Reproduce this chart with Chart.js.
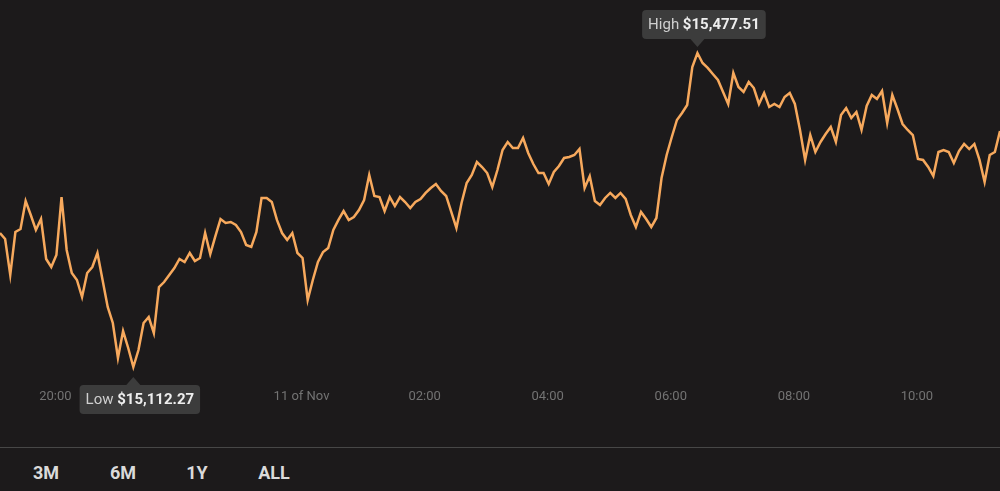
<!DOCTYPE html>
<html>
<head>
<meta charset="utf-8">
<script src="https://cdn.jsdelivr.net/npm/chart.js@4.4.0/dist/chart.umd.min.js"></script>
<style>
html, body { margin: 0; padding: 0; background: #1c1a1b; }
body { width: 1000px; height: 491px; position: relative; overflow: hidden; font-family: Roboto, sans-serif; }
#wrap { position: absolute; left: 0; top: 0; width: 1000px; height: 420px; }
#sep { position: absolute; left: 0; top: 447px; width: 1000px; height: 1px; background: #474747; }
.range { position: absolute; top: 461px; width: 60px; text-align: center; color: #dadada; font-weight: bold; font-size: 18px; line-height: 24px; }
</style>
</head>
<body>
<div id="wrap"><canvas id="priceChart"></canvas></div>
<div id="sep"></div>
<div class="range" style="left:16px">3M</div>
<div class="range" style="left:93px">6M</div>
<div class="range" style="left:167px">1Y</div>
<div class="range" style="left:244px">ALL</div>
<script>
// Preço a cada 5 minutos (10 a 11 de novembro)
const prices = [
    15268.1, 15261.2, 15219.3, 15269.3, 15272.8, 15305.4, 15289.1, 15271.6, 15284.4, 15237.9,
    15228.6, 15242.5, 15310.0, 15248.4, 15221.6, 15213.5, 15193.7, 15221.6, 15228.6, 15244.9,
    15213.5, 15182.1, 15163.5, 15122.7, 15154.1, 15134.4, 15112.27, 15132.0, 15163.5, 15170.4,
    15151.8, 15205.3, 15211.1, 15219.3,
    15227.4, 15237.9, 15234.4, 15244.9, 15235.6, 15239.1, 15268.1, 15243.7, 15264.6, 15284.4,
    15279.8, 15280.9, 15277.4, 15269.3, 15254.2, 15251.9, 15269.3, 15308.9, 15308.9, 15304.2,
    15283.3, 15268.1, 15260.0, 15268.1, 15244.9, 15239.1, 15190.2, 15213.5, 15234.4, 15246.0,
    15250.7, 15271.6,
    15283.3, 15293.7, 15283.3, 15286.8, 15294.9, 15306.5, 15335.6, 15311.2, 15310.0, 15293.7,
    15310.0, 15299.5, 15310.0, 15304.2, 15297.2, 15304.2, 15307.7, 15314.7, 15320.5, 15325.1,
    15317.0, 15311.2, 15292.6, 15274.0, 15303.0, 15326.3, 15335.6, 15350.7, 15344.9, 15337.9,
    15321.6, 15341.4,
    15364.7, 15374.0, 15367.0, 15367.0, 15378.6, 15361.2, 15348.4, 15337.9, 15337.9, 15325.1,
    15339.1, 15346.1, 15355.4, 15356.5, 15358.9, 15365.8, 15320.5, 15334.4, 15305.4, 15300.7,
    15308.9, 15314.7, 15308.9, 15314.7, 15307.7, 15289.1, 15275.1, 15292.6, 15284.4, 15275.1,
    15285.6, 15332.1, 15358.9,
    15379.8, 15399.6, 15407.7, 15417.0, 15461.2, 15477.51, 15465.9, 15460.1, 15453.1, 15446.1,
    15432.2, 15418.2, 15454.3, 15438.0, 15432.2, 15443.8, 15436.8, 15418.2, 15431.0, 15414.7,
    15418.2, 15414.7, 15426.3, 15431.0, 15418.2, 15388.0, 15353.1, 15382.1, 15362.4, 15374.0,
    15383.3, 15391.4, 15374.0, 15405.4, 15413.5,
    15401.9, 15408.9, 15388.0, 15415.9, 15428.7, 15424.0, 15433.3, 15396.1, 15428.7, 15412.4,
    15394.9, 15388.0, 15382.1, 15354.2, 15353.1, 15344.9, 15334.4, 15362.4, 15364.7, 15362.4,
    15349.6, 15363.5, 15371.7, 15365.8, 15371.7, 15353.1, 15327.5, 15358.9, 15362.4, 15386.8
];
const firstMinute = 1146; // 19:06 do dia 10, em minutos desde 00:00
const stepMinutes = 5;
const tickStep = 120;     // um rótulo a cada 2 horas
const yMin = 15097.15;
const yMax = 15539.16;

// Rótulo do eixo de tempo
function timeLabel(v) {
    const m = v % 1440;
    if (m === 0) return "11 of Nov";
    const h = Math.floor(m / 60), mm = m % 60;
    return String(h).padStart(2, "0") + ":" + String(mm).padStart(2, "0");
}

// Caixa "High" / "Low"
function drawBadge(chart, p, label, above) {
    const ctx = chart.ctx;
    const x = chart.scales.x.getPixelForValue(p.x);
    const y = chart.scales.y.getPixelForValue(p.y);
    const value = "$" + p.y.toLocaleString("en-US", { minimumFractionDigits: 2, maximumFractionDigits: 2 });
    ctx.save();
    ctx.font = "15px Roboto";
    const w1 = ctx.measureText(label + " ").width;
    ctx.font = "bold 15px Roboto";
    const w2 = ctx.measureText(value).width;
    const w = w1 + w2 + 12, h = 29;
    const cx = x + 6.5;
    const tipY = above ? y - 6 : y + 10;
    const boxY = above ? tipY - 8 - h : tipY + 8;
    const boxX = cx - w / 2;

    ctx.fillStyle = "#3c3c3c";
    ctx.beginPath();
    ctx.roundRect(boxX, boxY, w, h, 4);
    ctx.fill();
    ctx.beginPath();
    const baseY = above ? boxY + h : boxY;
    ctx.moveTo(x - 7, baseY);
    ctx.lineTo(x, tipY);
    ctx.lineTo(x + 7, baseY);
    ctx.closePath();
    ctx.fill();

    ctx.textBaseline = "middle";
    ctx.textAlign = "left";
    ctx.font = "15px Roboto";
    ctx.fillStyle = "#cfcfcf";
    ctx.fillText(label, boxX + 6, boxY + h / 2 + 1);
    ctx.font = "bold 15px Roboto";
    ctx.fillStyle = "#eeeeee";
    ctx.fillText(value, boxX + 6 + w1, boxY + h / 2 + 1);
    ctx.restore();
}

const highLowPlugin = {
    id: "highLow",
    afterDraw(chart) {
        const pts = chart.data.datasets[0].data;
        let hi = 0, lo = 0;
        pts.forEach((p, i) => {
            if (p.y > pts[hi].y) hi = i;
            if (p.y < pts[lo].y) lo = i;
        });
        drawBadge(chart, pts[hi], "High", true);
        drawBadge(chart, pts[lo], "Low", false);
    }
};

function initPriceChart() {
    const points = prices.map((v, i) => ({ x: firstMinute + i * stepMinutes, y: v }));
    const ctx = document.getElementById("priceChart").getContext("2d");
    new Chart(ctx, {
        type: "line",
        data: {
            datasets: [{
                data: points,
                borderColor: "#f7a95d",
                borderWidth: 2.5,
                pointRadius: 0,
                tension: 0,
                fill: false
            }]
        },
        options: {
            responsive: true,
            maintainAspectRatio: false,
            animation: false,
            events: [],
            layout: { padding: 0 },
            plugins: {
                legend: { display: false },
                tooltip: { enabled: false }
            },
            scales: {
                x: {
                    type: "linear",
                    min: firstMinute,
                    max: firstMinute + (prices.length - 1) * stepMinutes,
                    border: { display: false },
                    grid: { display: false, drawTicks: false },
                    afterBuildTicks: scale => {
                        scale.ticks = scale.ticks.filter(t => t.value % tickStep === 0);
                    },
                    afterFit: scale => { scale.height = 40; },
                    ticks: {
                        stepSize: tickStep,
                        autoSkip: false,
                        maxRotation: 0,
                        padding: 9,
                        color: "#737373",
                        font: { family: "Roboto", size: 13 },
                        callback: v => timeLabel(v)
                    }
                },
                y: {
                    display: false,
                    min: yMin,
                    max: yMax
                }
            }
        },
        plugins: [highLowPlugin]
    });
}

window.onload = function() {
    initPriceChart();
};
</script>
</body>
</html>
